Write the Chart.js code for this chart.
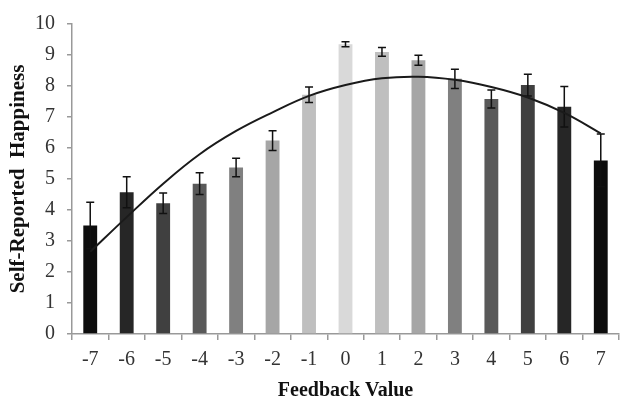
<!DOCTYPE html>
<html>
<head>
<meta charset="utf-8">
<script src="https://cdn.jsdelivr.net/npm/chart.js@4.4.1/dist/chart.umd.min.js"></script>
<style>
  html, body { margin: 0; padding: 0; background: #fff; }
  #wrap { width: 620px; height: 401px; }
</style>
</head>
<body>
<div id="wrap"><canvas id="myChart" width="620" height="401"></canvas></div>
<script>
// feedback values on the x axis
const labels = ['-7', '-6', '-5', '-4', '-3', '-2', '-1', '0', '1', '2', '3', '4', '5', '6', '7'];
// mean happiness per feedback value
const means = [3.5, 4.57, 4.22, 4.85, 5.37, 6.24, 7.72, 9.35, 9.1, 8.83, 8.23, 7.58, 8.03, 7.33, 5.6];
// half-length of the error bars
const errors = [0.75, 0.5, 0.33, 0.35, 0.3, 0.32, 0.25, 0.08, 0.14, 0.16, 0.31, 0.29, 0.35, 0.65, 0.85];
// fitted curve
const fitCurve = [2.65, 3.77, 4.85, 5.8, 6.55, 7.15, 7.68, 8.03, 8.25, 8.3, 8.2, 7.97, 7.63, 7.13, 6.47];
const barColors = ['#0d0d0d', '#262626', '#404040', '#595959', '#808080', '#a6a6a6', '#bfbfbf', '#d9d9d9',
                   '#bfbfbf', '#a6a6a6', '#808080', '#595959', '#404040', '#262626', '#0d0d0d'];

const serif = "'Liberation Serif', 'Times New Roman', serif";

// draw the error bars right after the bars, before the curve
const errorBars = {
    id: 'errorBars',
    afterDatasetDraw(chart, args) {
        if (args.index !== 0) return;
        const ctx = chart.ctx;
        const y = chart.scales.y;
        const meta = args.meta;
        ctx.save();
        ctx.strokeStyle = '#111';
        ctx.lineWidth = 1.5;
        meta.data.forEach((bar, i) => {
            const x = bar.x;
            const top = y.getPixelForValue(means[i] + errors[i]);
            const bot = y.getPixelForValue(means[i] - errors[i]);
            ctx.beginPath();
            ctx.moveTo(x, top); ctx.lineTo(x, bot);
            ctx.moveTo(x - 4, top); ctx.lineTo(x + 4, top);
            ctx.moveTo(x - 4, bot); ctx.lineTo(x + 4, bot);
            ctx.stroke();
        });
        ctx.restore();
    }
};

var ctx = document.getElementById('myChart');
var myChart = new Chart(ctx, {
    data: {
        labels: labels,
        datasets: [{
            type: 'bar',
            data: means,
            backgroundColor: barColors,
            borderWidth: 0,
            barPercentage: 0.38,
            categoryPercentage: 1,
            order: 1
        }, {
            type: 'line',
            data: fitCurve,
            borderColor: '#1a1a1a',
            borderWidth: 2,
            pointRadius: 0,
            tension: 0.4,
            fill: false,
            order: 0
        }]
    },
    options: {
        responsive: false,
        animation: false,
        layout: { padding: { top: 23, right: 1, left: 0, bottom: 0 } },
        plugins: {
            legend: { display: false },
            tooltip: { enabled: false }
        },
        scales: {
            x: {
                offset: true,
                grid: {
                    offset: true,
                    drawOnChartArea: false,
                    drawTicks: true,
                    tickLength: 6,
                    color: '#999',
                    lineWidth: 1.5
                },
                border: { color: '#999', width: 1.5 },
                ticks: {
                    color: '#333',
                    padding: 8,
                    font: { family: serif, size: 20 },
                    maxRotation: 0
                },
                title: {
                    display: true,
                    text: 'Feedback Value',
                    color: '#111',
                    font: { family: serif, size: 20, weight: 'bold', lineHeight: 1 },
                    padding: { top: 0, bottom: 0 }
                },
                afterFit(scale) { scale.height = 67; }
            },
            y: {
                min: 0,
                max: 10,
                grid: {
                    drawOnChartArea: false,
                    drawTicks: true,
                    tickLength: 5,
                    color: '#999',
                    lineWidth: 1.5
                },
                border: { color: '#999', width: 1.5 },
                ticks: {
                    stepSize: 1,
                    color: '#333',
                    padding: 12,
                    font: { family: serif, size: 20 }
                },
                title: {
                    display: true,
                    text: 'Self-Reported  Happiness',
                    color: '#111',
                    font: { family: serif, size: 21, weight: 'bold', lineHeight: 1 },
                    padding: { top: 8, bottom: 0 }
                },
                afterFit(scale) { scale.width = 72; }
            }
        }
    },
    plugins: [errorBars]
});
</script>
</body>
</html>
